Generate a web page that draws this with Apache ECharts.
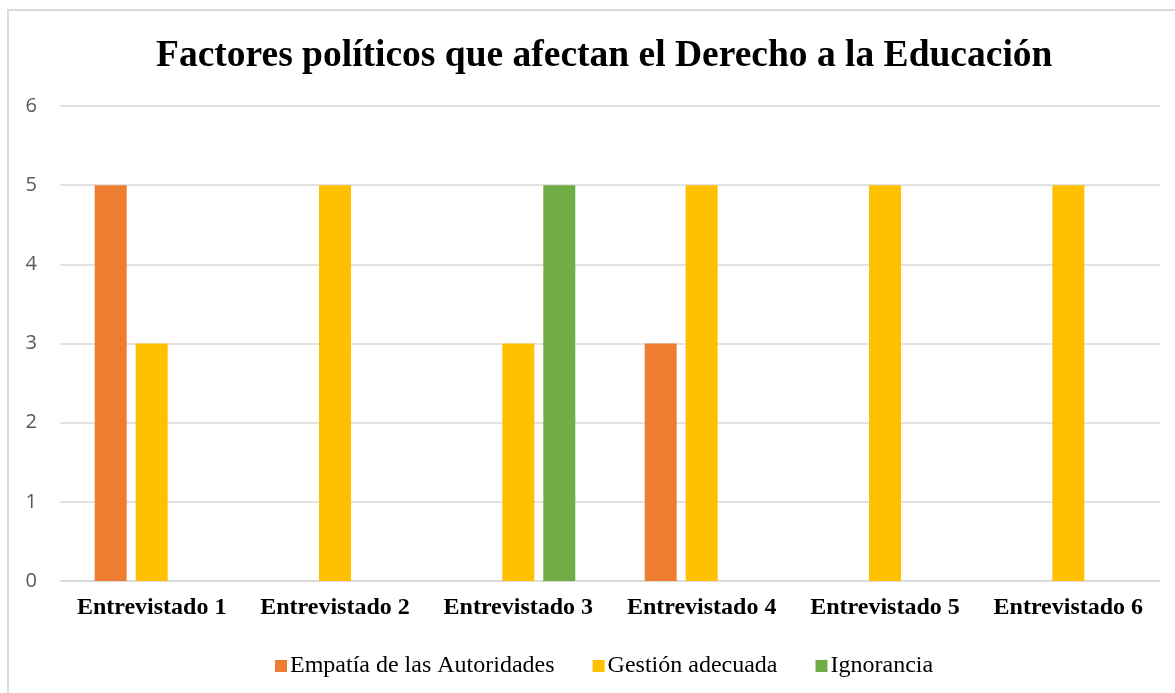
<!DOCTYPE html>
<html>
<head>
<meta charset="utf-8">
<script src="https://cdn.jsdelivr.net/npm/echarts@6/dist/echarts.min.js"></script>
<style>
  html, body { margin: 0; padding: 0; background: #fff; }
  #chart { width: 1175px; height: 693px; }
</style>
</head>
<body>
<div id="chart"></div>
<script>
  // datos del gráfico
  const categorias = ['Entrevistado 1', 'Entrevistado 2', 'Entrevistado 3', 'Entrevistado 4', 'Entrevistado 5', 'Entrevistado 6'];
  const empatia = [5, null, null, 3, null, null];
  const gestion = [3, 5, 3, 5, 5, 5];
  const ignorancia = [null, null, 5, null, null, null];

  let myChart = echarts.init(document.getElementById('chart'));
  let serifFont = '"Liberation Serif", "Times New Roman", serif';

  let option = {
    animation: false,
    graphic: [{
      type: 'rect',
      shape: { x: 8, y: 10, width: 1200, height: 720 },
      style: { fill: 'none', stroke: '#d9d9d9', lineWidth: 2 }
    }],
    title: {
      text: 'Factores políticos que afectan el Derecho a la Educación',
      left: 151,
      top: 32,
      textStyle: { fontFamily: serifFont, fontSize: 37.5, fontWeight: 'bold', color: '#000' }
    },
    legend: {
      top: 649,
      left: 270,
      itemWidth: 12,
      itemHeight: 12,
      itemGap: 38,
      icon: 'rect',
      textStyle: { fontFamily: serifFont, fontSize: 24, color: '#000', padding: [0, 0, 0, -2] },
      data: ['Empatía de las Autoridades', 'Gestión adecuada', 'Ignorancia']
    },
    grid: { left: 60, right: 15, top: 106, bottom: 112 },
    xAxis: {
      type: 'category',
      data: categorias,
      axisTick: { show: false },
      axisLine: { lineStyle: { color: '#d9d9d9', width: 1.5 } },
      axisLabel: { interval: 0, fontFamily: serifFont, fontSize: 24, fontWeight: 'bold', color: '#000', margin: 15 }
    },
    yAxis: {
      type: 'value',
      min: 0,
      max: 6,
      interval: 1,
      axisLabel: { fontFamily: '"Open Sans", "Liberation Sans", sans-serif', fontSize: 20, color: '#595959', margin: 23 },
      splitLine: { lineStyle: { color: '#d9d9d9', width: 1.5 } }
    },
    series: [{
      name: 'Empatía de las Autoridades',
      type: 'bar',
      data: empatia,
      barWidth: 32,
      barGap: '28%',
      itemStyle: { color: '#ed7d31' }
    }, {
      name: 'Gestión adecuada',
      type: 'bar',
      data: gestion,
      barWidth: 32,
      barGap: '28%',
      itemStyle: { color: '#ffc000' }
    }, {
      name: 'Ignorancia',
      type: 'bar',
      data: ignorancia,
      barWidth: 32,
      barGap: '28%',
      itemStyle: { color: '#70ad47' }
    }]
  };

  myChart.setOption(option);
</script>
</body>
</html>
